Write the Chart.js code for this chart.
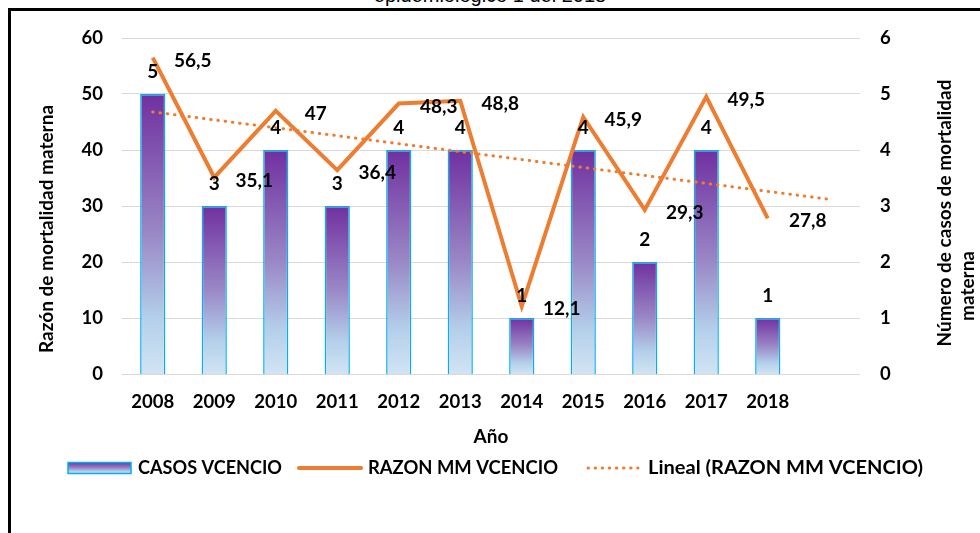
<!DOCTYPE html>
<html>
<head>
<meta charset="utf-8">
<script src="https://cdn.jsdelivr.net/npm/chart.js@4.4.1/dist/chart.umd.min.js"></script>
<style>
  body { margin: 0; background: #fff; }
  #wrap { position: relative; width: 980px; height: 533px; overflow: hidden; }
  #frame { position: absolute; left: 8px; top: 8px; width: 1000px; height: 600px;
           border-left: 3px solid #000; border-top: 3px solid #000; }
  #cut { position: absolute; left: 0; width: 980px; top: -16px; text-align: center;
         font: 20px "Liberation Sans", Arial, sans-serif; color: #000; }
  canvas { position: absolute; left: 0; top: 0; }
</style>
</head>
<body>
<div id="wrap">
  <div id="cut">epidemiológico 1 del 2018</div>
  <div id="frame"></div>
  <canvas id="chart" width="980" height="533"></canvas>
</div>
<script>
const years = ["2008", "2009", "2010", "2011", "2012", "2013", "2014", "2015", "2016", "2017", "2018", ""];
const casos = [5, 3, 4, 3, 4, 4, 1, 4, 2, 4, 1];
const razon = [56.5, 35.1, 47, 36.4, 48.3, 48.8, 12.1, 45.9, 29.3, 49.5, 27.8];
const razonLabels = ["56,5", "35,1", "47", "36,4", "48,3", "48,8", "12,1", "45,9", "29,3", "49,5", "27,8"];
// linear trend: start (2008) and end (one period past 2018)
const tendencia = [46.8, null, null, null, null, null, null, null, null, null, null, 31.2];

const ORANGE = "#ED7D31";
const CYAN = "#00B0F0";

function barGradient(c, top, base) {
  const g = c.createLinearGradient(0, top, 0, base);
  g.addColorStop(0, "#7030A0");
  g.addColorStop(0.5, "#9a88c6");
  g.addColorStop(0.8, "#b3cfea");
  g.addColorStop(1, "#d2e4f4");
  return g;
}

// legend text is narrower in Lato than in the original font, stretch it to the same span
function fitText(c, text, x, y, w) {
  const m = c.measureText(text).width;
  c.save();
  c.translate(x, y);
  c.scale(w / m, 1);
  c.fillText(text, 0, 0);
  c.restore();
}

const extras = {
  id: "extras",
  afterDatasetsDraw(chart) {
    const c = chart.ctx;
    c.save();
    c.fillStyle = "#000";
    c.font = "bold 19px Lato";
    c.textAlign = "center";
    c.textBaseline = "middle";
    chart.getDatasetMeta(0).data.forEach((el, i) => {
      c.fillText(String(casos[i]), el.x, el.y - 22);
    });
    chart.getDatasetMeta(1).data.forEach((el, i) => {
      c.fillText(razonLabels[i], el.x + 40, el.y + 3);
    });
    c.restore();
  },
  afterDraw(chart) {
    const c = chart.ctx;
    c.save();
    c.fillStyle = "#000";
    c.font = "bold 19px Lato";
    c.textAlign = "center";
    c.textBaseline = "middle";
    // axis titles (both read bottom to top)
    c.save();
    c.translate(47, 229);
    c.rotate(-Math.PI / 2);
    c.fillText("Razón de mortalidad materna", 0, 0);
    c.restore();
    c.save();
    c.translate(945, 213);
    c.rotate(-Math.PI / 2);
    c.fillText("Número de casos de mortalidad", 0, 0);
    c.restore();
    c.save();
    c.translate(968, 286);
    c.rotate(-Math.PI / 2);
    c.fillText("materna", 0, 0);
    c.restore();

    // legend
    const ly = 468;
    c.fillStyle = barGradient(c, ly - 5.5, ly + 5.5);
    c.fillRect(68, ly - 5.5, 63, 11);
    c.strokeStyle = CYAN;
    c.lineWidth = 1.5;
    c.strokeRect(68, ly - 5.5, 63, 11);

    c.strokeStyle = ORANGE;
    c.lineWidth = 4;
    c.lineCap = "round";
    c.beginPath();
    c.moveTo(299, ly);
    c.lineTo(361, ly);
    c.stroke();

    c.lineWidth = 3;
    c.setLineDash([0.5, 6.6]);
    c.beginPath();
    c.moveTo(588, ly);
    c.lineTo(638, ly);
    c.stroke();
    c.setLineDash([]);

    c.fillStyle = "#000";
    c.font = "bold 18px Lato";
    c.textAlign = "left";
    fitText(c, "CASOS VCENCIO", 138, ly, 144);
    fitText(c, "RAZON MM VCENCIO", 368, ly, 190);
    fitText(c, "Lineal (RAZON MM VCENCIO)", 648, ly, 275);
    c.restore();
  }
};

function draw() {
  Chart.defaults.font.family = "Lato";
  Chart.defaults.font.weight = "bold";
  Chart.defaults.font.size = 18;
  Chart.defaults.color = "#000";

  new Chart(document.getElementById("chart").getContext("2d"), {
    data: {
      labels: years,
      datasets: [
        {
          type: "bar",
          label: "CASOS VCENCIO",
          data: casos,
          yAxisID: "y1",
          order: 3,
          borderColor: CYAN,
          borderWidth: 1.5,
          barPercentage: 0.41,
          categoryPercentage: 1,
          backgroundColor: ctx => {
            const chart = ctx.chart;
            if (!chart.chartArea || ctx.type !== "data") return "#7030A0";
            const s = chart.scales.y1;
            return barGradient(chart.ctx, s.getPixelForValue(ctx.parsed.y), s.getPixelForValue(0));
          }
        },
        {
          type: "line",
          label: "RAZON MM VCENCIO",
          data: razon,
          yAxisID: "y",
          order: 1,
          borderColor: ORANGE,
          borderWidth: 4,
          borderJoinStyle: "miter",
          tension: 0,
          pointRadius: 0
        },
        {
          type: "line",
          label: "Lineal (RAZON MM VCENCIO)",
          data: tendencia,
          yAxisID: "y",
          order: 2,
          spanGaps: true,
          borderColor: ORANGE,
          borderWidth: 3,
          borderDash: [0.5, 6.8],
          borderCapStyle: "round",
          pointRadius: 0
        }
      ]
    },
    options: {
      responsive: false,
      animation: false,
      devicePixelRatio: 1,
      layout: { padding: { left: 0, right: 0, top: 38, bottom: 84 } },
      plugins: { legend: { display: false }, tooltip: { enabled: false } },
      scales: {
        x: {
          offset: true,
          grid: { display: false, drawTicks: false },
          border: { display: false },
          ticks: { padding: 17, maxRotation: 0, autoSkip: false, font: { size: 18.5 } },
          title: { display: true, text: "Año", font: { size: 19 }, padding: { top: 0, bottom: 1 } },
          afterFit: s => { s.height = 75; }
        },
        y: {
          position: "left",
          min: 0,
          max: 60,
          ticks: { stepSize: 10, padding: 19, font: { size: 18.5 } },
          grid: { color: "#d9d9d9", lineWidth: 1, drawTicks: false },
          border: { display: false },
          afterFit: s => { s.width = 122; }
        },
        y1: {
          position: "right",
          min: 0,
          max: 6,
          ticks: { stepSize: 1, padding: 20, font: { size: 18.5 } },
          grid: { display: false, drawTicks: false },
          border: { display: false },
          afterFit: s => { s.width = 120; }
        }
      }
    },
    plugins: [extras]
  });
}

if (document.fonts && document.fonts.load) {
  document.fonts.load("bold 18px Lato").then(draw, draw);
} else {
  draw();
}
</script>
</body>
</html>
